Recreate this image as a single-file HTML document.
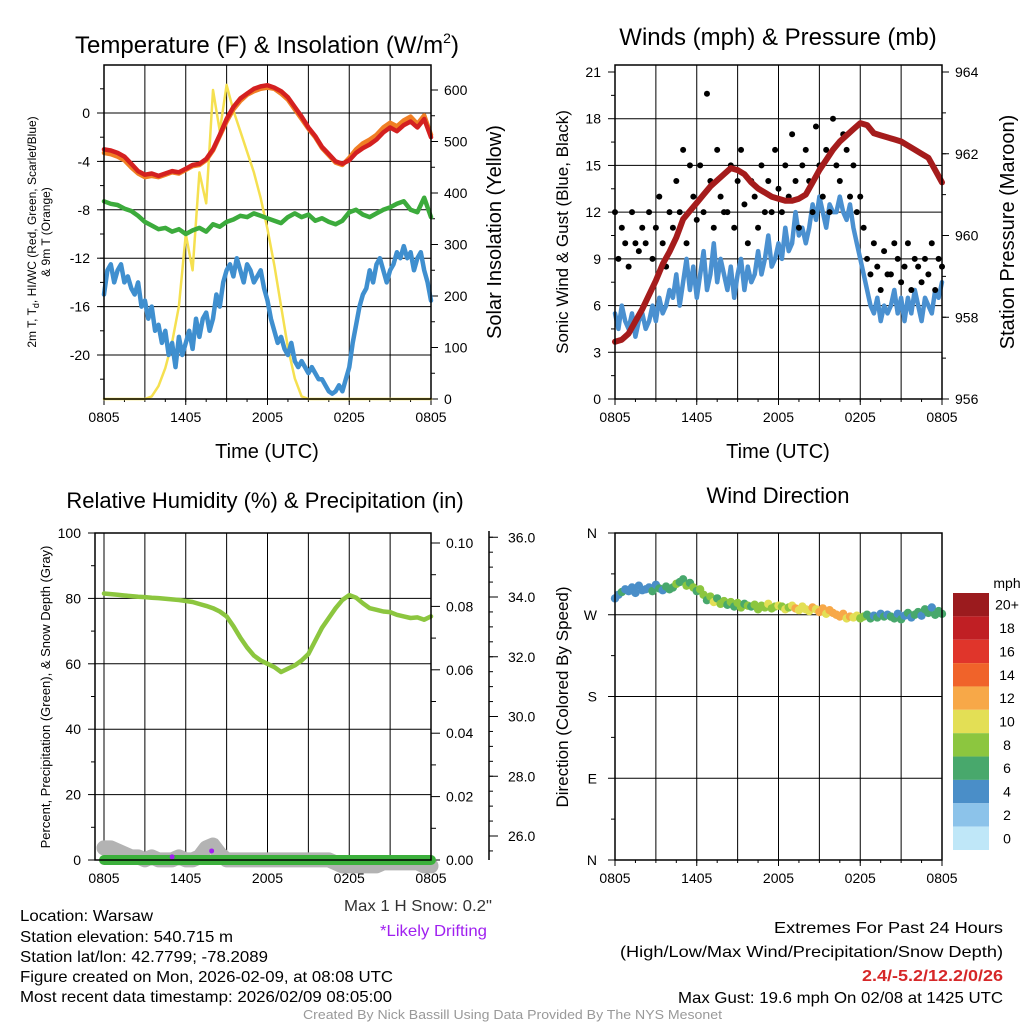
<!DOCTYPE html>
<html><head><meta charset="utf-8"><style>
html,body{margin:0;padding:0;background:#fff;}
svg{display:block;font-family:"Liberation Sans",Arial,sans-serif;}
</style></head><body>
<svg id="c" width="1024" height="1024" viewBox="0 0 1024 1024" xmlns="http://www.w3.org/2000/svg">
<rect width="1024" height="1024" fill="#fff"/>
<g id="g1"></g>
<g id="g2"></g>
<g id="g3"></g>
<g id="g4"></g>
<g id="gt">
<text x="267" y="53" font-size="24" text-anchor="middle">Temperature (F) &amp; Insolation (W/m<tspan font-size="14" dy="-10">2</tspan><tspan dy="10">)</tspan></text>
<text x="778" y="45" font-size="24" text-anchor="middle">Winds (mph) &amp; Pressure (mb)</text>
<text x="265" y="508" font-size="22" text-anchor="middle">Relative Humidity (%) &amp; Precipitation (in)</text>
<text x="778" y="503" font-size="22" text-anchor="middle">Wind Direction</text>
<text x="267" y="458" font-size="20" text-anchor="middle">Time (UTC)</text>
<text x="778" y="458" font-size="20" text-anchor="middle">Time (UTC)</text>
<text transform="translate(36,232) rotate(-90)" font-size="12" text-anchor="middle">2m T, T<tspan font-size="9" dy="3">d</tspan><tspan dy="-3">, HI/WC (Red, Green, Scarlet/Blue)</tspan></text>
<text transform="translate(50,232) rotate(-90)" font-size="12" text-anchor="middle">&amp; 9m T (Orange)</text>
<text transform="translate(501,232) rotate(-90)" font-size="20" text-anchor="middle">Solar Insolation (Yellow)</text>
<text transform="translate(568,232) rotate(-90)" font-size="17" text-anchor="middle">Sonic Wind &amp; Gust (Blue, Black)</text>
<text transform="translate(1014,232) rotate(-90)" font-size="20" text-anchor="middle">Station Pressure (Maroon)</text>
<text transform="translate(50,697) rotate(-90)" font-size="13" text-anchor="middle">Percent, Precipitation (Green), &amp; Snow Depth (Gray)</text>
<text transform="translate(568,697) rotate(-90)" font-size="17" text-anchor="middle">Direction (Colored By Speed)</text>
<text x="344" y="911" font-size="16" textLength="148" lengthAdjust="spacingAndGlyphs" fill="#333">Max 1 H Snow: 0.2"</text>
<text x="380" y="936" font-size="16" textLength="107" lengthAdjust="spacingAndGlyphs" fill="#a020f0">*Likely Drifting</text>
<g font-size="16">
<text x="20" y="921" textLength="133" lengthAdjust="spacingAndGlyphs">Location: Warsaw</text>
<text x="20" y="942" textLength="213" lengthAdjust="spacingAndGlyphs">Station elevation: 540.715 m</text>
<text x="20" y="962" textLength="248" lengthAdjust="spacingAndGlyphs">Station lat/lon: 42.7799; -78.2089</text>
<text x="20" y="982" textLength="373" lengthAdjust="spacingAndGlyphs">Figure created on Mon, 2026-02-09, at 08:08 UTC</text>
<text x="20" y="1002" textLength="372" lengthAdjust="spacingAndGlyphs">Most recent data timestamp: 2026/02/09 08:05:00</text>
</g>
<g font-size="16">
<text x="774" y="933" textLength="229" lengthAdjust="spacingAndGlyphs">Extremes For Past 24 Hours</text>
<text x="620" y="957" textLength="383" lengthAdjust="spacingAndGlyphs">(High/Low/Max Wind/Precipitation/Snow Depth)</text>
<text x="862" y="981" textLength="141" lengthAdjust="spacingAndGlyphs" fill="#d62728" font-weight="bold">2.4/-5.2/12.2/0/26</text>
<text x="678" y="1003" textLength="325" lengthAdjust="spacingAndGlyphs">Max Gust: 19.6 mph On 02/08 at 1425 UTC</text>
</g>
<text x="303" y="1019" font-size="13" textLength="419" lengthAdjust="spacingAndGlyphs" fill="#999">Created By Nick Bassill Using Data Provided By The NYS Mesonet</text>
</g>
</svg>
<script>
// ---- data (half-hourly, t = 0..24 h from 0805 UTC) ----
var xTicks = ["0805","1405","2005","0205","0805"];
var tempRed = [-3,-3.1,-3.3,-3.6,-4.2,-4.8,-5.1,-5.0,-5.2,-5.0,-4.8,-4.9,-4.6,-4.3,-4.2,-3.8,-3.0,-1.8,-0.5,0.5,1.2,1.6,2.0,2.2,2.3,2.1,1.8,1.3,0.5,-0.3,-1.2,-1.9,-2.8,-3.4,-4.0,-4.2,-3.9,-3.3,-2.9,-2.6,-2.2,-1.6,-1.2,-1.5,-1.0,-0.7,-1.2,-0.5,-2.0];
var tempOrange = [-3.3,-3.4,-3.6,-3.9,-4.5,-5.0,-5.3,-5.2,-5.3,-5.1,-4.9,-5.0,-4.7,-4.4,-4.3,-3.9,-3.1,-1.9,-0.7,0.3,1.0,1.5,1.8,2.0,2.1,2.0,1.6,1.1,0.3,-0.5,-1.3,-2.0,-2.9,-3.5,-4.1,-4.3,-3.7,-3.0,-2.5,-2.2,-1.8,-1.2,-0.8,-1.1,-0.6,-0.3,-0.9,-0.2,-1.8];
var windChill = [-7.3,-7.5,-7.6,-7.9,-8.1,-8.5,-9.0,-9.3,-9.6,-9.5,-9.8,-9.6,-10.0,-9.7,-9.5,-9.8,-9.2,-9.4,-9.0,-8.8,-8.5,-8.6,-8.3,-8.5,-8.7,-8.9,-9.1,-8.6,-8.3,-8.6,-8.4,-8.9,-8.7,-9.0,-9.2,-8.9,-8.2,-8.0,-8.4,-8.6,-8.3,-8.0,-7.8,-7.5,-7.3,-8.0,-8.2,-7.0,-8.6];
var insolation = [0,0,0,0,0,0,0,5,25,60,110,180,320,250,440,380,600,520,610,560,520,480,440,390,330,260,180,100,40,5,0,0,0,0,0,0,0,0,0,0,0,0,0,0,0,0,0,0,0];
var pressure = [957.4,957.45,957.6,957.9,958.2,958.55,958.9,959.3,959.6,959.95,960.4,960.6,960.8,961.0,961.2,961.35,961.5,961.65,961.6,961.5,961.3,961.15,961.05,960.95,960.9,960.85,960.85,960.9,961.0,961.3,961.6,961.85,962.1,962.3,962.45,962.6,962.75,962.7,962.5,962.45,962.4,962.35,962.3,962.2,962.1,962.0,961.9,961.6,961.3];
var rh = [81.5,81.3,81.1,80.9,80.7,80.5,80.4,80.2,80.1,79.9,79.7,79.5,79.2,78.9,78.3,77.7,77.0,76,74.5,71.5,68,65,62.5,61,60,59,57.5,58.5,59.5,61,63,67,71,74,77,79.5,81,80.2,78.5,77,76.5,76,75.8,75,74.5,74,74.2,73.5,74.5];
var precip = [0,0,0,0,0,0,0,0,0,0,0,0,0,0,0,0,0,0,0,0,0,0,0,0,0,0,0,0,0,0,0,0,0,0,0,0,0,0,0,0,0,0,0,0,0,0,0,0,0];
var snowDepth = [25.6,25.6,25.5,25.4,25.3,25.3,25.2,25.3,25.2,25.2,25.2,25.3,25.2,25.2,25.3,25.6,25.7,25.4,25.2,25.2,25.2,25.2,25.2,25.2,25.2,25.2,25.2,25.2,25.2,25.2,25.2,25.2,25.2,25.2,25.1,25.0,25.0,25.0,25.0,25.0,25.0,25.1,25.1,25.1,25.1,25.1,25.1,25.0,25.0];
var driftTimes = [5.0, 7.9];
var driftDepth = [25.3, 25.5];
// ---- quarter-hourly data (t = 0..24 step 0.25) ----
var dewPoint = [-15,-13,-12.5,-14,-13,-12.5,-14,-13.5,-14.5,-15,-14,-16,-15.5,-17,-16,-18,-17.5,-19,-18,-20,-19,-21,-18.5,-20,-19,-18,-19.5,-17,-18.5,-17,-16.5,-18,-17,-15,-16,-14,-13,-12.5,-13.5,-12,-13,-14,-12.5,-13,-14,-13.5,-13,-14.5,-15.5,-17,-18,-19,-18.5,-19.5,-20,-19,-20.5,-21,-20.5,-21,-21.5,-21,-21.5,-22,-22,-22.5,-23,-23.2,-23,-22.5,-23,-22,-21,-19,-17.5,-16,-15,-14.5,-13,-14,-12.5,-12,-13,-14,-13,-12.5,-11.5,-12,-11,-12,-11.5,-13,-12,-11.5,-13,-14,-15.5];
var windSpeed = [5.5,4.5,6,5,4.5,5.5,4,5,5.5,4.5,5,6,5,6.5,5.5,6,7,6.5,8,6,7.5,9,7,8.5,6.5,8,9.5,7,8,10,7.5,9,8,7,8.5,6.5,8,9,7,8.5,7.5,8,9.5,8,9,10.5,8.5,9,10,9,11,9.5,10,12,10.5,11,10,11,12.5,11.5,13,12,11,12.5,12,12,13,12,11.5,12.5,11,10,9,8,7,6,5.5,6.5,5,6,5.5,6,7,5.5,6.5,5,6.5,5.5,7,6,5,6.5,6,5.5,7,6.5,7.5];
var windGust = [12,9,11,10,8.5,12,10,9.5,11,10,12,9,11,13,10,8.5,12,11,14,12,16,10,15,13,11.5,15,12,19.6,14,11,16,13,12,12,15,11,14,16,12.5,10,14,13,11,15,12,14,12,16,13.5,12,15,13,17,14,11,15,16,14,12,17.5,15,13,16,12,18,15,14,17,16,13,15,12,13,11,9,8,10,8.5,7,9.5,8,8,10,9,7.5,8.5,10,7,9,8.5,7.5,9,8,10,7,9,8.5];
var windDir = [288,292,295,298,296,300,294,302,297,298,300,296,303,299,297,301,298,300,304,306,309,302,305,300,296,298,292,286,290,284,288,282,285,281,284,279,283,278,282,280,279,281,276,280,278,282,277,279,280,279,276,278,280,277,275,279,276,274,278,276,273,277,271,275,272,270,268,271,266,268,267,269,266,268,270,266,269,267,271,268,270,268,266,271,265,269,272,267,270,273,269,276,272,278,270,274,271];
var cbLabels = ["20+","18","16","14","12","10","8","6","4","2","0"];
var cbColors = ["#9b1b1e","#c01f24","#e0352b","#f0632a","#f7a848","#e3df55","#8cc63f","#48a86c","#4a8ec8","#8cc3ea","#bfe7f8"];

var NS="http://www.w3.org/2000/svg";
function mk(parent, tag, attrs){var e=document.createElementNS(NS,tag);for(var k in attrs)e.setAttribute(k,attrs[k]);parent.appendChild(e);return e;}
function lin(d0,d1,r0,r1){return function(v){return r0+(v-d0)*(r1-r0)/(d1-d0);};}
function txt(parent,x,y,s,size,anchor,fill){var t=mk(parent,'text',{x:x,y:y,'font-size':size,'text-anchor':anchor||'middle',fill:fill||'#000'});t.textContent=s;return t;}
function half(i){return i*0.5;}
function quar(i){return i*0.25;}

function frame(g,x0,x1,y0,y1,xs){
  for(var h=0;h<=24;h+=3){var x=xs(h);var l=mk(g,'line',{x1:x,x2:x,y1:y0,y2:y1,stroke:'#000','stroke-width':1});
    
    }
  for(var i=0;i<xTicks.length;i++){var x=xs(i*6);var t=txt(g,x,y1+23,xTicks[i],14);
    
    
    mk(g,'line',{x1:x,x2:x,y1:y1,y2:y1+6,stroke:'#000'});}
  for(var h=0;h<=24;h+=1.5){var x=xs(h);mk(g,'line',{x1:x,x2:x,y1:y1,y2:y1+3,stroke:'#000'});}
}
function hgrid(g,x0,x1,y){var l=mk(g,'line',{x1:x0,x2:x1,y1:y,y2:y,stroke:'#000','stroke-width':1});
  
  }
function poly(g,arr,tf,xs,ys,col,w,name){var p=[];for(var i=0;i<arr.length;i++)p.push(xs(tf(i)).toFixed(1)+','+ys(arr[i]).toFixed(1));
  var e=mk(g,'polyline',{points:p.join(' '),fill:'none',stroke:col,'stroke-width':w,'stroke-linejoin':'round','stroke-linecap':'round'});
  
  return e;}

// ===== Panel 1 =====
(function(){
 var g=document.getElementById('g1');var X0=104,X1=431,Y0=65,Y1=399;
 var xs=lin(0,24,X0,X1), ys=lin(0,-20,113,355), yr=lin(0,600,399,90);
 frame(g,X0,X1,Y0,Y1,xs);
 for(var v=0;v>=-20;v-=4){var y=ys(v);hgrid(g,X0,X1,y);var t=txt(g,X0-14,y+5,String(v),14,'end');
   
   
   mk(g,'line',{x1:X0-7,x2:X0,y1:y,y2:y,stroke:'#000'});}
 for(var v=2;v>=-22;v-=2){var y=ys(v);if(y>Y0&&y<Y1)mk(g,'line',{x1:X0-4,x2:X0,y1:y,y2:y,stroke:'#000'});}
 for(var v=0;v<=600;v+=100){var y=yr(v);var t=txt(g,X1+13,y+5,String(v),14,'start');
   
   
   mk(g,'line',{x1:X1,x2:X1+7,y1:y,y2:y,stroke:'#000'});}
 for(var v=50;v<=650;v+=100){var y=yr(v);if(y>Y0)mk(g,'line',{x1:X1,x2:X1+4,y1:y,y2:y,stroke:'#000'});}
 poly(g,insolation,half,xs,yr,'#f5e050',2.5,'insolation-line');
 poly(g,dewPoint,quar,xs,ys,'#3f8fcf',4.5,'dewpoint-line');
 poly(g,windChill,half,xs,ys,'#3cab3c',4.5,'windchill-line');
 poly(g,tempOrange,half,xs,ys,'#f07f24',4.5,'temp-9m-line');
 poly(g,tempRed,half,xs,ys,'#d42020',4.5,'temp-2m-line');
 mk(g,'rect',{x:X0,y:Y0,width:X1-X0,height:Y1-Y0,fill:'none',stroke:'#000','stroke-width':1.5});
})();

// ===== Panel 2 =====
(function(){
 var g=document.getElementById('g2');var X0=615,X1=942,Y0=65,Y1=399;
 var xs=lin(0,24,X0,X1), ys=lin(0,21,399,72), yr=lin(956,964,399,72);
 frame(g,X0,X1,Y0,Y1,xs);
 for(var v=0;v<=21;v+=3){var y=ys(v);if(v>0&&v<21)hgrid(g,X0,X1,y);var t=txt(g,X0-14,y+5,String(v),14,'end');
   
   
   mk(g,'line',{x1:X0-7,x2:X0,y1:y,y2:y,stroke:'#000'});}
 for(var v=1.5;v<21;v+=3){var y=ys(v);mk(g,'line',{x1:X0-4,x2:X0,y1:y,y2:y,stroke:'#000'});}
 for(var v=956;v<=964;v+=2){var y=yr(v);var t=txt(g,X1+13,y+5,String(v),14,'start');
   
   
   mk(g,'line',{x1:X1,x2:X1+7,y1:y,y2:y,stroke:'#000'});}
 for(var v=957;v<964;v+=1){var y=yr(v);mk(g,'line',{x1:X1,x2:X1+4,y1:y,y2:y,stroke:'#000'});}
 poly(g,windSpeed,quar,xs,ys,'#4a90d0',4.5,'wind-speed-line');
 for(var i=0;i<windGust.length;i++){var c=mk(g,'circle',{cx:xs(quar(i)),cy:ys(windGust[i]),r:3,fill:'#000'});
   
   }
 poly(g,pressure,half,xs,yr,'#a51c1c',6,'pressure-line');
 mk(g,'rect',{x:X0,y:Y0,width:X1-X0,height:Y1-Y0,fill:'none',stroke:'#000','stroke-width':1.5});
})();

// ===== Panel 3 =====
(function(){
 var g=document.getElementById('g3');var X0=95,X1=431,Y0=533,Y1=860;
 var xs=lin(0,24,104,431), ys=lin(0,100,860,533), yp=lin(0,0.1,860,543), yd=lin(26,34,836,597);
 for(var h=0;h<=24;h+=3){var x=xs(h);mk(g,'line',{x1:x,x2:x,y1:Y0,y2:Y1,stroke:'#000'});}
 for(var i=0;i<xTicks.length;i++){var x=xs(i*6);var t=txt(g,x,Y1+23,xTicks[i],14);
   
   }
 for(var v=0;v<=100;v+=20){var y=ys(v);if(v>0&&v<100)hgrid(g,X0,X1,y);var t=txt(g,X0-14,y+5,String(v),14,'end');
   
   
   mk(g,'line',{x1:X0-7,x2:X0,y1:y,y2:y,stroke:'#000'});}
 for(var v=10;v<100;v+=20){var y=ys(v);mk(g,'line',{x1:X0-4,x2:X0,y1:y,y2:y,stroke:'#000'});}
 for(var k=0;k<=5;k++){var v=k*0.02;var y=yp(v);var t=txt(g,X1+15,y+5,v.toFixed(2),14,'start');
   
   
   mk(g,'line',{x1:X1,x2:X1+9,y1:y,y2:y,stroke:'#000'});}
 for(var k=0;k<5;k++){var y=yp(k*0.02+0.01);mk(g,'line',{x1:X1,x2:X1+5,y1:y,y2:y,stroke:'#000'});}
 mk(g,'line',{x1:489,x2:489,y1:531,y2:860,stroke:'#000','stroke-width':1.5});
 for(var v=26;v<=36;v+=2){var y=yd(v);var t=txt(g,508,y+5,v.toFixed(1),14,'start');
   
   
   mk(g,'line',{x1:489,x2:498,y1:y,y2:y,stroke:'#000'});}
 for(var v=25;v<=36;v+=0.5){var y=yd(v);if(y>531&&y<860)mk(g,'line',{x1:489,x2:493,y1:y,y2:y,stroke:'#000'});}
 poly(g,snowDepth,half,xs,yd,'#b3b3b3',15,'snow-depth-line');
 poly(g,precip,half,xs,yp,'#3cb03c',10,'precip-line');
 for(var i=0;i<driftTimes.length;i++){var c=mk(g,'circle',{cx:xs(driftTimes[i]),cy:yd(driftDepth[i]),r:2.5,fill:'#a020f0'});
   
   }
 poly(g,rh,half,xs,ys,'#8cc63f',4.5,'rh-line');
 mk(g,'rect',{x:X0,y:Y0,width:X1-X0,height:Y1-Y0,fill:'none',stroke:'#000','stroke-width':1.5});
})();

// ===== Panel 4 =====
(function(){
 var g=document.getElementById('g4');var X0=615,X1=942,Y0=533,Y1=860;
 var xs=lin(0,24,X0,X1), ys=lin(0,360,860,533);
 frame(g,X0,X1,Y0,Y1,xs);
 var dl=["N","E","S","W","N"];
 for(var k=0;k<=4;k++){var y=ys(k*90);if(k>0&&k<4)hgrid(g,X0,X1,y);var t=txt(g,X0-18,y+5,dl[k],14,'end');
   
   
   mk(g,'line',{x1:X0-7,x2:X0,y1:y,y2:y,stroke:'#000'});}
 for(var v=45;v<360;v+=90){var y=ys(v);mk(g,'line',{x1:X0-4,x2:X0,y1:y,y2:y,stroke:'#000'});}
 for(var i=0;i<windDir.length;i++){var s=windSpeed[i];var idx=Math.min(10,Math.floor(s/2));var col=cbColors[10-idx];
   var c=mk(g,'circle',{cx:xs(quar(i)),cy:ys(windDir[i]),r:4.2,fill:col});
   
   }
 mk(g,'rect',{x:X0,y:Y0,width:X1-X0,height:Y1-Y0,fill:'none',stroke:'#000','stroke-width':1.5});
 var bh=(850-593)/cbColors.length;
 for(var k=0;k<cbColors.length;k++){var r=mk(g,'rect',{x:953,y:593+k*bh,width:36,height:bh,fill:cbColors[k]});
   
   
   var t=txt(g,1007,593+k*bh+bh/2+5,cbLabels[k],14,'middle');
   
   }
 var u=txt(g,1007,588,'mph',14,'middle');
 
 
})();
</script>
</body></html>
